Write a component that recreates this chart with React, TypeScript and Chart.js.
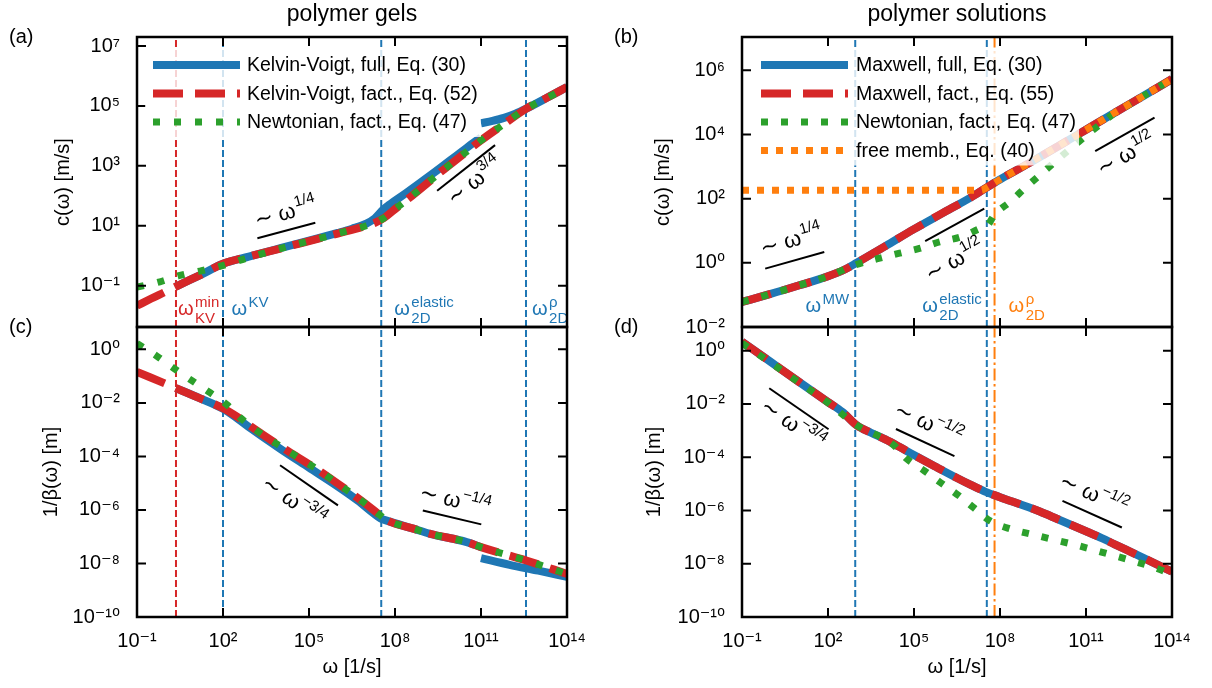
import React, { useEffect, useRef } from 'react';
import { Chart, registerables } from 'chart.js';

Chart.register(...registerables);

const W = 1212;
const H = 688;
const FONT = '"Liberation Sans", Arial, Helvetica, "DejaVu Sans", sans-serif';
const BLUE = '#1f77b4';
const RED = '#d62728';
const GREEN = '#2ca02c';
const ORANGE = '#ff7f0e';

// ---------- axes (log10 exponents) ----------
const omegaRangeExp = [-1, 14];
const omegaTickExps = [-1, 2, 5, 8, 11, 14];
const gelCTickExps = [-1, 1, 3, 5, 7];
const solCTickExps = [-2, 0, 2, 4, 6];
const invBetaTickExps = [0, -2, -4, -6, -8, -10];

// ---------- (a) polymer gels: c(ω), log10 values ----------
const gelFactW = [-1, -0.5, 0, 0.36, 1.26, 2, 2.9, 4, 5, 6, 7, 7.3, 7.6, 8.06, 8.5, 9.1, 9.5, 10, 10.6, 11, 11.66, 12.58, 13.3, 14];
const gelFactC = [-1.67, -1.43, -1.2, -1.03, -0.62, -0.27, -0.03, 0.24, 0.49, 0.74, 1.0, 1.1, 1.25, 1.6, 1.93, 2.4, 2.72, 3.1, 3.55, 3.85, 4.3, 4.91, 5.27, 5.63];
const gelFullW1 = [0.36, 1.26, 2, 2.9, 4, 5, 6, 6.5, 7, 7.3, 7.6, 7.8, 8.4, 9.33, 10.5, 11];
const gelFullC1 = [-1.03, -0.62, -0.27, -0.03, 0.25, 0.5, 0.76, 0.9, 1.07, 1.25, 1.55, 1.7, 2.1, 2.75, 3.6, 3.95];
const gelFullW2 = [11, 11.4, 11.8, 12.2, 12.58, 13.3, 14];
const gelFullC2 = [4.42, 4.5, 4.6, 4.74, 4.91, 5.27, 5.63];
const gelNewtW = [-1, -0.2, 0.5, 1.26, 1.95, 2.7, 3.2, 4, 5, 6, 7, 7.3, 7.6, 8.06, 8.5, 9.1, 9.5, 10, 10.6, 11, 11.66, 12.58, 13.3, 14];
const gelNewtC = [-1.05, -0.87, -0.66, -0.5, -0.34, -0.12, 0.02, 0.24, 0.49, 0.74, 1.0, 1.1, 1.25, 1.6, 1.93, 2.4, 2.72, 3.1, 3.55, 3.85, 4.3, 4.91, 5.27, 5.6];

// ---------- (c) polymer gels: 1/β(ω) ----------
const gelFactBW = [-1, 0.36, 1.2, 2, 2.5, 3, 4, 5.38, 6.31, 7.01, 7.48, 7.71, 8.64, 9.22, 10.5, 11, 12.58, 14];
const gelFactB = [-0.84, -1.45, -1.83, -2.2, -2.52, -2.9, -3.62, -4.55, -5.25, -5.8, -6.2, -6.38, -6.7, -6.89, -7.2, -7.39, -7.89, -8.39];
const gelFullBW1 = [0.36, 1.2, 2, 2.5, 3, 4, 5, 6, 6.7, 7.24, 7.5, 7.71, 8.64, 9.22, 10.5, 11];
const gelFullB1 = [-1.45, -1.83, -2.22, -2.58, -2.98, -3.72, -4.42, -5.12, -5.65, -6.12, -6.32, -6.4, -6.7, -6.89, -7.2, -7.39];
const gelFullBW2 = [11, 12, 13, 14];
const gelFullB2 = [-7.8, -8.05, -8.27, -8.5];
const gelNewtBW = [-1, -0.31, 0.3, 0.93, 1.55, 2.16, 2.6, 3, 4, 5.38, 6.31, 7.01, 7.48, 7.71, 8.64, 9.22, 10.5, 11, 12.58, 14];
const gelNewtB = [0.22, -0.25, -0.72, -1.18, -1.62, -2.09, -2.55, -2.9, -3.62, -4.55, -5.25, -5.8, -6.2, -6.38, -6.7, -6.89, -7.2, -7.39, -7.89, -8.39];

// ---------- (b) polymer solutions: c(ω) ----------
const solFactW = [-1, 0, 1, 2, 2.6, 3, 4, 5, 6, 7, 7.5, 8, 9, 10, 11, 12, 13, 14];
const solFactC = [-1.22, -0.97, -0.7, -0.42, -0.2, 0, 0.52, 1.05, 1.55, 2.05, 2.33, 2.6, 3.1, 3.62, 4.15, 4.68, 5.2, 5.73];
const solFullW = [-1, 0, 1, 2, 2.6, 3, 4, 5, 6, 7, 7.5, 8, 9, 10, 11, 12, 13, 14];
const solFullC = [-1.22, -0.97, -0.7, -0.42, -0.2, 0, 0.52, 1.05, 1.55, 2.05, 2.33, 2.6, 3.1, 3.62, 4.15, 4.68, 5.2, 5.73];
const solNewtW = [-1, 0, 1, 2, 3, 3.73, 4.5, 5.19, 5.89, 6.64, 7.31, 7.55, 7.81, 8.39, 8.87, 9.47, 10.01, 10.59, 11.16, 11.7, 12.11, 12.5, 13, 14];
const solNewtC = [-1.22, -0.97, -0.7, -0.42, -0.05, 0.13, 0.3, 0.45, 0.65, 0.81, 1.07, 1.15, 1.5, 1.93, 2.33, 2.8, 3.22, 3.66, 4.08, 4.46, 4.75, 4.93, 5.2, 5.73];
const solFreeW = [-1, 3, 7, 7.35, 7.5, 8, 9, 10, 11, 12, 13, 14];
const solFreeC = [2.26, 2.26, 2.26, 2.26, 2.33, 2.6, 3.1, 3.62, 4.15, 4.68, 5.2, 5.73];

// ---------- (d) polymer solutions: 1/β(ω) ----------
const solFactBW = [-1, 0, 1, 2, 2.5, 3, 3.5, 4, 4.47, 5, 5.76, 6.5, 7, 7.5, 8, 9, 9.41, 10, 11, 11.57, 12, 13, 14];
const solFactB = [0.34, -0.42, -1.18, -1.93, -2.3, -2.8, -3.08, -3.33, -3.6, -3.92, -4.36, -4.78, -5.05, -5.3, -5.5, -5.88, -6.05, -6.32, -6.78, -7.05, -7.27, -7.78, -8.3];
const solFullBW = [-1, 0, 1, 2, 2.5, 3, 3.5, 4, 4.47, 5, 5.76, 6.5, 7, 7.5, 8, 9, 9.41, 10, 11, 11.57, 12, 13, 14];
const solFullB = [0.34, -0.42, -1.18, -1.93, -2.3, -2.8, -3.08, -3.33, -3.6, -3.92, -4.36, -4.78, -5.05, -5.3, -5.5, -5.88, -6.05, -6.32, -6.78, -7.05, -7.27, -7.78, -8.3];
const solNewtBW = [-1, 0, 1, 2, 3, 4, 4.3, 4.74, 5.35, 5.92, 6.57, 7.11, 7.67, 8.39, 9.13, 9.81, 10.51, 11.23, 11.93, 12.65, 13.33, 14];
const solNewtB = [0.28, -0.45, -1.2, -1.95, -2.8, -3.33, -3.55, -4.05, -4.5, -4.95, -5.45, -5.92, -6.4, -6.7, -6.9, -7.08, -7.26, -7.47, -7.68, -7.9, -8.12, -8.4];

// ---------- characteristic frequencies (log10 ω) ----------
const gelVerticalExps = [0.36, 2, 7.52, 12.57];
const solVerticalExps = [2.95, 7.54, 7.81];

// ---------- power-law guide lines: [w1, v1, w2, v2] and label anchor [w, v, exponent] ----------
const gelCGuide14 = [3.2, 0.58, 5.22, 1.1];
const gelCGuide34 = [9.47, 2.17, 11.49, 3.69];
const gelBGuide34 = [3.99, -4.33, 6.01, -5.83];
const gelBGuide14 = [8.97, -6.02, 11.01, -6.54];
const solCGuide14 = [-0.19, -0.18, 1.87, 0.34];
const solCGuide12a = [5.39, 0.68, 7.45, 1.69];
const solCGuide12b = [11.32, 3.48, 13.39, 4.53];
const solBGuide34 = [-0.05, -1.41, 2.02, -2.95];
const solBGuide12a = [4.37, -2.94, 6.41, -3.96];
const solBGuide12b = [10.18, -5.64, 12.25, -6.64];

const gelCGuideLabels = [[4.19, 1.41, '1/4'], [10.79, 2.47, '3/4']];
const gelBGuideLabels = [[4.45, -5.71, '−3/4'], [10.09, -5.67, '−1/4']];
const solCGuideLabels = [[0.72, 0.68, '1/4'], [6.43, 0.05, '1/2'], [12.41, 3.35, '1/2']];
const solBGuideLabels = [[0.76, -2.79, '−3/4'], [5.49, -2.76, '−1/2'], [11.26, -5.42, '−1/2']];

// ---------- helpers ----------
const SUP: Record<string, string> = { '0': '⁰', '1': '¹', '2': '²', '3': '³', '4': '⁴', '5': '⁵', '6': '⁶', '7': '⁷', '8': '⁸', '9': '⁹', '-': '⁻' };
const powLabel = (v: number) => {
  const e = Math.round(Math.log10(v));
  return '10' + String(e).split('').map((c) => SUP[c]).join('');
};
const pts = (w: number[], v: number[]) => w.map((e, i) => ({ x: 10 ** e, y: 10 ** v[i] }));

const curve = (label: string, w: number[], v: number[], color: string, width: number, dash: number[], order: number, legendRow?: number) => ({
  label,
  data: pts(w, v),
  borderColor: color,
  borderWidth: width,
  borderDash: dash,
  borderCapStyle: 'butt',
  borderJoinStyle: 'round',
  pointRadius: 0,
  fill: false,
  cubicInterpolationMode: 'monotone',
  clip: 0,
  order,
  legendRow,
});

const guide = (g: number[]) => ({
  label: 'guide',
  data: [{ x: 10 ** g[0], y: 10 ** g[1] }, { x: 10 ** g[2], y: 10 ** g[3] }],
  borderColor: '#000',
  borderWidth: 2,
  pointRadius: 0,
  tension: 0,
  clip: 0,
  order: 1,
});

const vline = (exp: number, color: string, dash: number[], yMin: number, yMax: number) => ({
  label: 'marker',
  data: [{ x: 10 ** exp, y: 10 ** yMin }, { x: 10 ** exp, y: 10 ** yMax }],
  borderColor: color,
  borderWidth: 2,
  borderDash: dash,
  pointRadius: 0,
  tension: 0,
  clip: 0,
  order: 10,
});

const DASHED = [7, 3];
const DASHDOT = [12, 3.5, 2.5, 3.5];
const RED_DASH = [30, 12];

// ---------- panels ----------
type VLabel = { exp: number; color: string; sup: string; sub?: string; dx: number; align: 'left' | 'right'; base: number };

const gelCRange = [-2.38, 7.3];
const gelBRange = [-10, 0.835];
const solCRange = [-2, 7.04];
const solBRange = [-10, 0.89];

const PANELS: any[] = [
  {
    plot: { l: 137, t: 37, r: 567, b: 327 },
    yTitleX: 63,
    yRange: gelCRange,
    yTicks: gelCTickExps,
    yTitle: 'c(ω) [m/s]',
    showX: false,
    title: 'polymer gels',
    letter: '(a)',
    letterPos: [9, 37],
    datasets: [
      curve('Kelvin-Voigt, full, Eq. (30)', gelFullW1, gelFullC1, BLUE, 8, [], 5, 0),
      curve('Kelvin-Voigt, full (branch)', gelFullW2, gelFullC2, BLUE, 8, [], 5),
      curve('Kelvin-Voigt, fact., Eq. (52)', gelFactW, gelFactC, RED, 8, RED_DASH, 4, 1),
      curve('Newtonian, fact., Eq. (47)', gelNewtW, gelNewtC, GREEN, 7, [7, 14], 3, 2),
      guide(gelCGuide14),
      guide(gelCGuide34),
      vline(gelVerticalExps[0], RED, DASHED, gelCRange[0], gelCRange[1]),
      vline(gelVerticalExps[1], BLUE, DASHED, gelCRange[0], gelCRange[1]),
      vline(gelVerticalExps[2], BLUE, DASHED, gelCRange[0], gelCRange[1]),
      vline(gelVerticalExps[3], BLUE, DASHED, gelCRange[0], gelCRange[1]),
    ],
    guideLines: [gelCGuide14, gelCGuide34],
    guideLabels: gelCGuideLabels,
    vlabels: [
      { exp: gelVerticalExps[0], color: RED, sup: 'min', sub: 'KV', dx: 2, align: 'left', base: 12 },
      { exp: gelVerticalExps[1], color: BLUE, sup: 'KV', dx: 8.5, align: 'left', base: 12 },
      { exp: gelVerticalExps[2], color: BLUE, sup: 'elastic', sub: '2D', dx: 13, align: 'left', base: 12 },
      { exp: gelVerticalExps[3], color: BLUE, sup: 'ρ', sub: '2D', dx: 6, align: 'left', base: 12 },
    ] as VLabel[],
    legend: { x0: 153, x1: 240, textX: 247, y0: 65, dy: 28.5 },
  },
  {
    plot: { l: 137, t: 327, r: 567, b: 617 },
    yTitleX: 51,
    yRange: gelBRange,
    yTicks: invBetaTickExps,
    yTitle: '1/β(ω) [m]',
    showX: true,
    letter: '(c)',
    letterPos: [9, 327],
    datasets: [
      curve('Kelvin-Voigt, full, Eq. (30)', gelFullBW1, gelFullB1, BLUE, 8, [], 5),
      curve('Kelvin-Voigt, full (branch)', gelFullBW2, gelFullB2, BLUE, 8, [], 5),
      curve('Kelvin-Voigt, fact., Eq. (52)', gelFactBW, gelFactB, RED, 8, RED_DASH, 4),
      curve('Newtonian, fact., Eq. (47)', gelNewtBW, gelNewtB, GREEN, 7, [7, 14], 3),
      guide(gelBGuide34),
      guide(gelBGuide14),
      vline(gelVerticalExps[0], RED, DASHED, gelBRange[0], gelBRange[1]),
      vline(gelVerticalExps[1], BLUE, DASHED, gelBRange[0], gelBRange[1]),
      vline(gelVerticalExps[2], BLUE, DASHED, gelBRange[0], gelBRange[1]),
      vline(gelVerticalExps[3], BLUE, DASHED, gelBRange[0], gelBRange[1]),
    ],
    guideLines: [gelBGuide34, gelBGuide14],
    guideLabels: gelBGuideLabels,
    vlabels: [],
  },
  {
    plot: { l: 742, t: 37, r: 1172, b: 327 },
    yTitleX: 663,
    yRange: solCRange,
    yTicks: solCTickExps,
    yTitle: 'c(ω) [m/s]',
    showX: false,
    title: 'polymer solutions',
    letter: '(b)',
    letterPos: [614, 37],
    datasets: [
      curve('Maxwell, full, Eq. (30)', solFullW, solFullC, BLUE, 8, [], 5, 0),
      curve('Maxwell, fact., Eq. (55)', solFactW, solFactC, RED, 8, RED_DASH, 4, 1),
      curve('Newtonian, fact., Eq. (47)', solNewtW, solNewtC, GREEN, 7, [7, 13], 3, 2),
      curve('free memb., Eq. (40)', solFreeW, solFreeC, ORANGE, 7, [7, 8], 2, 3),
      guide(solCGuide14),
      guide(solCGuide12a),
      guide(solCGuide12b),
      vline(solVerticalExps[0], BLUE, DASHED, solCRange[0], solCRange[1]),
      vline(solVerticalExps[1], BLUE, DASHED, solCRange[0], solCRange[1]),
      vline(solVerticalExps[2], ORANGE, DASHDOT, solCRange[0], solCRange[1]),
    ],
    guideLines: [solCGuide14, solCGuide12a, solCGuide12b],
    guideLabels: solCGuideLabels,
    vlabels: [
      { exp: solVerticalExps[0], color: BLUE, sup: 'MW', dx: -6, align: 'right', base: 15 },
      { exp: solVerticalExps[1], color: BLUE, sup: 'elastic', sub: '2D', dx: -5, align: 'right', base: 15 },
      { exp: solVerticalExps[2], color: ORANGE, sup: 'ρ', sub: '2D', dx: 14, align: 'left', base: 15 },
    ] as VLabel[],
    legend: { x0: 761, x1: 848, textX: 856, y0: 65, dy: 28.5 },
  },
  {
    plot: { l: 742, t: 327, r: 1172, b: 617 },
    yTitleX: 654,
    yRange: solBRange,
    yTicks: invBetaTickExps,
    yTitle: '1/β(ω) [m]',
    showX: true,
    letter: '(d)',
    letterPos: [614, 327],
    datasets: [
      curve('Maxwell, full, Eq. (30)', solFullBW, solFullB, BLUE, 8, [], 5),
      curve('Maxwell, fact., Eq. (55)', solFactBW, solFactB, RED, 8, RED_DASH, 4),
      curve('Newtonian, fact., Eq. (47)', solNewtBW, solNewtB, GREEN, 7, [7, 13], 3),
      guide(solBGuide34),
      guide(solBGuide12a),
      guide(solBGuide12b),
      vline(solVerticalExps[0], BLUE, DASHED, solBRange[0], solBRange[1]),
      vline(solVerticalExps[1], BLUE, DASHED, solBRange[0], solBRange[1]),
      vline(solVerticalExps[2], ORANGE, DASHDOT, solBRange[0], solBRange[1]),
    ],
    guideLines: [solBGuide34, solBGuide12a, solBGuide12b],
    guideLabels: solBGuideLabels,
    vlabels: [],
  },
];

// ---------- drawing helpers ----------
function drawOmegaLabel(ctx: CanvasRenderingContext2D, x: number, baseY: number, lab: VLabel) {
  ctx.save();
  ctx.fillStyle = lab.color;
  ctx.textBaseline = 'alphabetic';
  ctx.textAlign = 'left';
  ctx.font = `20px ${FONT}`;
  const wm = ctx.measureText('ω').width;
  ctx.font = `15px ${FONT}`;
  const wsup = ctx.measureText(lab.sup).width;
  const wsub = lab.sub ? ctx.measureText(lab.sub).width : 0;
  const total = wm + 1.5 + Math.max(wsup, wsub);
  const x0 = lab.align === 'left' ? x + lab.dx : x + lab.dx - total;
  ctx.font = `20px ${FONT}`;
  ctx.fillText('ω', x0, baseY);
  ctx.font = `15px ${FONT}`;
  ctx.fillText(lab.sup, x0 + wm + 1.5, baseY - 8);
  if (lab.sub) ctx.fillText(lab.sub, x0 + wm + 1.5, baseY + 7.7);
  ctx.restore();
}

function drawPowerLabel(ctx: CanvasRenderingContext2D, cx: number, cy: number, angle: number, sup: string) {
  ctx.save();
  ctx.translate(cx, cy);
  ctx.rotate(angle);
  ctx.fillStyle = '#000';
  ctx.textBaseline = 'alphabetic';
  ctx.textAlign = 'left';
  const tilde = '∼';
  const om = 'ω';
  ctx.font = `22px "DejaVu Sans", ${FONT}`;
  const wt = ctx.measureText(tilde).width;
  ctx.font = `22px ${FONT}`;
  const wo = ctx.measureText(om).width;
  ctx.font = `15px ${FONT}`;
  const ws = ctx.measureText(sup).width;
  const gap = 6;
  const x0 = -(wt + gap + wo + 1 + ws) / 2;
  ctx.font = `22px "DejaVu Sans", ${FONT}`;
  ctx.fillText(tilde, x0, 6);
  ctx.font = `22px ${FONT}`;
  ctx.fillText(om, x0 + wt + gap, 6);
  ctx.font = `15px ${FONT}`;
  ctx.fillText(sup, x0 + wt + gap + wo + 1, -4);
  ctx.restore();
}

function decorPlugin(p: any) {
  return {
    id: 'decor',
    afterDatasetsDraw(chart: any) {
      const { ctx, chartArea: ca, scales } = chart;
      const xs = scales.x;
      const ys = scales.y;
      ctx.save();

      // characteristic-frequency labels
      for (const lab of p.vlabels as VLabel[]) {
        const px = xs.getPixelForValue(10 ** lab.exp);
        drawOmegaLabel(ctx, px, ca.bottom - lab.base, lab);
      }

      // power-law labels, rotated along their guide lines
      p.guideLabels.forEach((gl: any[], i: number) => {
        const g = p.guideLines[i];
        const x1 = xs.getPixelForValue(10 ** g[0]);
        const y1 = ys.getPixelForValue(10 ** g[1]);
        const x2 = xs.getPixelForValue(10 ** g[2]);
        const y2 = ys.getPixelForValue(10 ** g[3]);
        const ang = Math.atan2(y2 - y1, x2 - x1);
        drawPowerLabel(ctx, xs.getPixelForValue(10 ** gl[0]), ys.getPixelForValue(10 ** gl[1]), ang, gl[2]);
      });

      // frame
      ctx.setLineDash([]);
      ctx.strokeStyle = '#000';
      ctx.lineWidth = 2.5;
      ctx.strokeRect(ca.left, ca.top, ca.right - ca.left, ca.bottom - ca.top);

      // inward ticks on all four sides
      ctx.lineWidth = 2;
      ctx.beginPath();
      for (const e of omegaTickExps) {
        const px = xs.getPixelForValue(10 ** e);
        ctx.moveTo(px, ca.bottom);
        ctx.lineTo(px, ca.bottom - 9);
        ctx.moveTo(px, ca.top);
        ctx.lineTo(px, ca.top + 9);
      }
      for (const e of p.yTicks) {
        const py = ys.getPixelForValue(10 ** e);
        ctx.moveTo(ca.left, py);
        ctx.lineTo(ca.left + 9, py);
        ctx.moveTo(ca.right, py);
        ctx.lineTo(ca.right - 9, py);
      }
      ctx.stroke();

      // panel title and letter
      ctx.fillStyle = '#000';
      ctx.textBaseline = 'middle';
      if (p.title) {
        ctx.font = `23px ${FONT}`;
        ctx.textAlign = 'center';
        ctx.fillText(p.title, (ca.left + ca.right) / 2, 15);
      }
      ctx.font = `20px ${FONT}`;
      ctx.textAlign = 'left';
      ctx.fillText(p.letter, p.letterPos[0], p.letterPos[1]);

      // legend (semi-transparent box drawn over the data, as in the source)
      if (p.legend) {
        const lg = p.legend;
        const items = chart.data.datasets
          .filter((d: any) => d.legendRow !== undefined)
          .sort((a: any, b: any) => a.legendRow - b.legendRow);
        ctx.font = `19.5px ${FONT}`;
        const maxW = Math.max(...items.map((d: any) => ctx.measureText(d.label).width));
        ctx.fillStyle = 'rgba(255,255,255,0.8)';
        ctx.fillRect(lg.x0 - 8, lg.y0 - 15, lg.textX + maxW + 3 - (lg.x0 - 8), (items.length - 1) * lg.dy + 30);
        items.forEach((d: any, i: number) => {
          const y = lg.y0 + i * lg.dy;
          ctx.strokeStyle = d.borderColor;
          ctx.lineWidth = d.borderWidth;
          ctx.lineCap = 'butt';
          ctx.setLineDash(d.borderDash || []);
          ctx.beginPath();
          ctx.moveTo(lg.x0, y);
          ctx.lineTo(lg.x1, y);
          ctx.stroke();
          ctx.setLineDash([]);
          ctx.fillStyle = '#000';
          ctx.textAlign = 'left';
          ctx.textBaseline = 'middle';
          ctx.fillText(d.label, lg.textX, y + 1);
        });
      }
      ctx.restore();
    },
  };
}

const AXIS_FONT = 20;
const TITLE_OFFSET = 4 + (AXIS_FONT * 1.2) / 2;
const X_AXIS_H = 4 + AXIS_FONT * 1.2 / 2 + 50;

function buildConfig(p: any) {
  const scaleLeft = p.yTitleX - TITLE_OFFSET;
  const yW = p.plot.l - scaleLeft;
  const xH = p.showX ? X_AXIS_H : 0;
  return {
    type: 'line',
    data: { datasets: p.datasets },
    options: {
      animation: false,
      responsive: false,
      devicePixelRatio: 1,
      events: [],
      layout: { padding: { left: scaleLeft, top: p.plot.t, right: W - p.plot.r, bottom: H - p.plot.b - xH } },
      plugins: { legend: { display: false }, tooltip: { enabled: false }, title: { display: false } },
      scales: {
        x: {
          type: 'logarithmic',
          position: 'bottom',
          min: 10 ** omegaRangeExp[0],
          max: 10 ** omegaRangeExp[1],
          afterBuildTicks: (s: any) => {
            s.ticks = omegaTickExps.map((e) => ({ value: 10 ** e }));
          },
          afterFit: (s: any) => {
            s.height = xH;
          },
          grid: { display: false },
          border: { display: false },
          ticks: {
            display: p.showX,
            autoSkip: false,
            maxRotation: 0,
            minRotation: 0,
            padding: 4,
            color: '#000',
            font: { family: FONT, size: AXIS_FONT },
            callback: (v: number) => powLabel(v),
          },
          title: {
            display: p.showX,
            text: 'ω [1/s]',
            color: '#000',
            font: { family: FONT, size: AXIS_FONT },
            padding: { top: 4, bottom: 4 },
          },
        },
        y: {
          type: 'logarithmic',
          position: 'left',
          min: 10 ** p.yRange[0],
          max: 10 ** p.yRange[1],
          afterBuildTicks: (s: any) => {
            s.ticks = p.yTicks.map((e: number) => ({ value: 10 ** e }));
          },
          afterFit: (s: any) => {
            s.width = yW;
          },
          grid: { display: false },
          border: { display: false },
          ticks: {
            autoSkip: false,
            padding: 9,
            color: '#000',
            font: { family: FONT, size: AXIS_FONT },
            callback: (v: number) => powLabel(v),
          },
          title: {
            display: true,
            text: p.yTitle,
            color: '#000',
            font: { family: FONT, size: AXIS_FONT },
            padding: { top: 4, bottom: 4 },
          },
        },
      },
    },
    plugins: [decorPlugin(p)],
  };
}

export default function App() {
  const canvases = useRef<(HTMLCanvasElement | null)[]>([]);
  useEffect(() => {
    const charts = PANELS.map((p, i) => new Chart(canvases.current[i] as HTMLCanvasElement, buildConfig(p) as any));
    return () => charts.forEach((c) => c.destroy());
  }, []);
  return (
    <div style={{ position: 'absolute', left: 0, top: 0, width: W, height: H, background: '#fff' }}>
      {PANELS.map((_, i) => (
        <canvas
          key={i}
          ref={(el) => {
            canvases.current[i] = el;
          }}
          width={W}
          height={H}
          style={{ position: 'absolute', left: 0, top: 0, width: W, height: H }}
        />
      ))}
    </div>
  );
}
